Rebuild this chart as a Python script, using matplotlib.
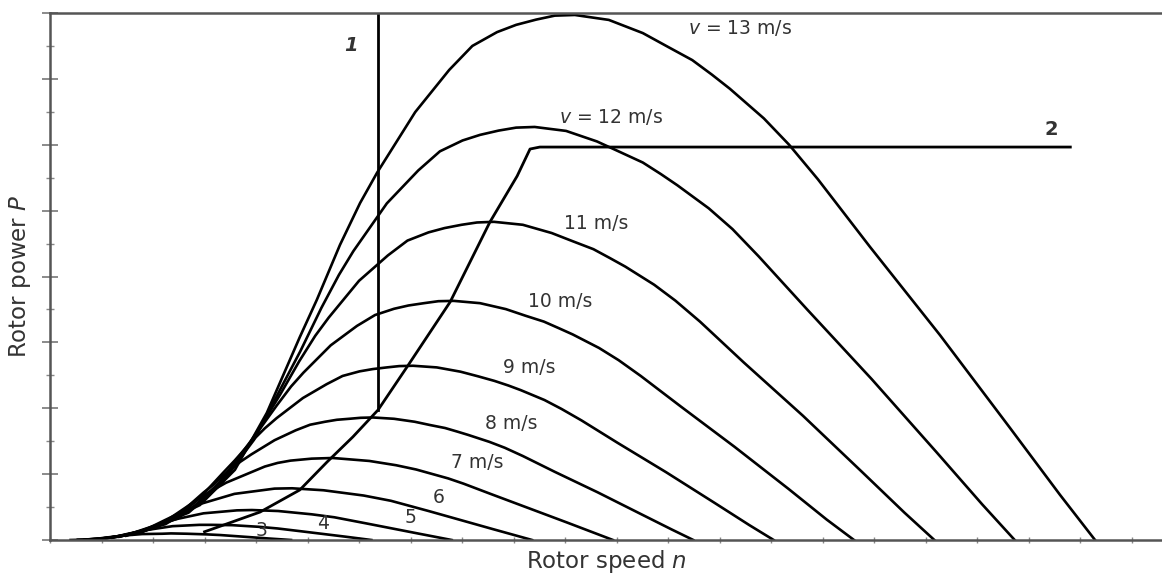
import matplotlib
matplotlib.use("Agg")
import matplotlib.pyplot as plt
from matplotlib.ticker import MultipleLocator

# rotor power curves P(n) for wind speeds 3..13 m/s
n13 = [1.75, 2.91, 3.59, 4.21, 4.85, 5.18, 5.63, 6.02, 6.35, 7.09, 7.75, 8.20, 8.68, 9.05, 9.44, 9.80,
       10.19, 10.85, 11.51, 12.00, 12.47, 12.85, 13.20, 13.86, 14.35, 14.91, 15.92, 17.28, 18.64, 19.61, 20.29]
p13 = [0.21, 1.06, 2.13, 3.86, 6.16, 7.29, 8.96, 10.23, 11.15, 12.99, 14.27, 15.00, 15.42, 15.64, 15.80, 15.92,
       15.94, 15.79, 15.39, 14.97, 14.57, 14.13, 13.70, 12.80, 12.00, 10.95, 8.90, 6.22, 3.40, 1.37, 0.0]
n12 = [1.62, 2.69, 3.31, 3.96, 4.56, 4.86, 5.27, 5.61, 5.89, 6.54, 7.15, 7.57, 8.01, 8.35, 8.71, 9.05,
       9.41, 10.02, 10.62, 11.08, 11.51, 11.86, 12.18, 12.79, 13.25, 13.76, 14.70, 15.95, 17.21, 18.10, 18.73]
p12 = [0.17, 0.83, 1.68, 3.04, 4.84, 5.73, 7.05, 8.05, 8.77, 10.22, 11.22, 11.80, 12.13, 12.30, 12.43, 12.52,
       12.54, 12.42, 12.10, 11.77, 11.46, 11.11, 10.77, 10.07, 9.44, 8.61, 7.00, 4.89, 2.67, 1.08, 0.0]
n11 = [1.48, 2.46, 3.04, 3.64, 4.20, 4.47, 4.84, 5.15, 5.41, 6.00, 6.56, 6.94, 7.35, 7.66, 7.99, 8.29,
       8.62, 9.18, 9.74, 10.15, 10.55, 10.87, 11.17, 11.73, 12.14, 12.62, 13.47, 14.62, 15.77, 16.59, 17.17]
p11 = [0.13, 0.64, 1.29, 2.34, 3.73, 4.42, 5.43, 6.20, 6.75, 7.87, 8.64, 9.09, 9.34, 9.47, 9.57, 9.64,
       9.66, 9.57, 9.32, 9.07, 8.83, 8.56, 8.30, 7.75, 7.27, 6.63, 5.39, 3.77, 2.06, 0.83, 0.0]
n10 = [1.35, 2.24, 2.76, 3.30, 3.80, 4.05, 4.40, 4.68, 4.92, 5.45, 5.96, 6.31, 6.68, 6.96, 7.26, 7.54,
       7.84, 8.35, 8.85, 9.23, 9.59, 9.88, 10.15, 10.66, 11.04, 11.47, 12.25, 13.29, 14.34, 15.08, 15.61]
p10 = [0.10, 0.48, 0.97, 1.76, 2.80, 3.32, 4.08, 4.66, 5.08, 5.91, 6.50, 6.83, 7.02, 7.12, 7.19, 7.25,
       7.26, 7.19, 7.01, 6.81, 6.63, 6.43, 6.24, 5.83, 5.46, 4.98, 4.05, 2.83, 1.55, 0.62, 0.0]
n9 = [1.21, 2.01, 2.49, 2.91, 3.36, 3.59, 3.90, 4.17, 4.40, 4.91, 5.37, 5.68, 6.01, 6.27, 6.54, 6.78,
      7.05, 7.51, 7.97, 8.31, 8.63, 8.90, 9.14, 9.60, 9.93, 10.32, 11.02, 11.96, 12.90, 13.58, 14.05]
p9 = [0.07, 0.35, 0.71, 1.28, 2.04, 2.42, 2.97, 3.39, 3.70, 4.31, 4.73, 4.98, 5.12, 5.19, 5.24, 5.28,
      5.29, 5.24, 5.11, 4.97, 4.83, 4.69, 4.55, 4.25, 3.98, 3.63, 2.95, 2.06, 1.13, 0.45, 0.0]
n8 = [1.08, 1.79, 2.21, 2.59, 2.98, 3.19, 3.46, 3.70, 3.91, 4.36, 4.77, 5.05, 5.34, 5.57, 5.81, 6.03,
      6.27, 6.68, 7.08, 7.38, 7.67, 7.91, 8.12, 8.53, 8.83, 9.18, 9.80, 10.63, 11.47, 12.07, 12.49]
p8 = [0.05, 0.25, 0.50, 0.90, 1.44, 1.70, 2.09, 2.38, 2.60, 3.03, 3.33, 3.50, 3.59, 3.65, 3.68, 3.71,
      3.72, 3.68, 3.59, 3.49, 3.40, 3.29, 3.19, 2.98, 2.80, 2.55, 2.07, 1.45, 0.79, 0.32, 0.0]
n7 = [0.94, 1.57, 1.93, 2.27, 2.61, 3.03, 3.42, 4.17, 4.42, 4.67, 5.08, 5.49, 6.20, 6.72, 7.11, 7.73,
      8.03, 8.57, 10.04, 10.93]
p7 = [0.03, 0.17, 0.33, 0.60, 0.96, 1.40, 1.74, 2.23, 2.34, 2.41, 2.47, 2.49, 2.40, 2.27, 2.14, 1.87,
      1.71, 1.39, 0.53, 0.0]
n6 = [0.81, 1.34, 1.66, 1.94, 2.24, 2.60, 2.93, 3.58, 4.36, 4.70, 5.31, 6.09, 6.62, 7.35, 8.60, 9.36]
p6 = [0.02, 0.10, 0.21, 0.38, 0.61, 0.88, 1.10, 1.40, 1.56, 1.57, 1.51, 1.35, 1.19, 0.88, 0.33, 0.0]
n5 = [0.67, 1.12, 1.38, 1.62, 1.87, 2.17, 2.44, 2.98, 3.63, 3.92, 4.43, 5.08, 5.52, 6.12, 7.17, 7.80]
p5 = [0.01, 0.06, 0.12, 0.22, 0.35, 0.51, 0.63, 0.81, 0.90, 0.91, 0.88, 0.78, 0.69, 0.51, 0.19, 0.0]
n4 = [0.54, 0.90, 1.10, 1.30, 1.49, 1.73, 1.95, 2.38, 2.90, 3.14, 3.54, 4.06, 4.42, 4.90, 5.74, 6.24]
p4 = [0.01, 0.03, 0.06, 0.11, 0.18, 0.26, 0.32, 0.42, 0.46, 0.46, 0.45, 0.40, 0.35, 0.26, 0.10, 0.0]
n3 = [0.40, 0.67, 0.83, 0.97, 1.12, 1.30, 1.47, 1.79, 2.18, 2.35, 2.66, 3.05, 3.31, 3.67, 4.30, 4.68]
p3 = [0.00, 0.01, 0.03, 0.05, 0.08, 0.11, 0.14, 0.18, 0.19, 0.20, 0.19, 0.17, 0.15, 0.11, 0.04, 0.0]

# operating line 1 (fixed speed) and 2 (variable speed, power limited)
n_line1 = [6.37, 6.37]
p_line1 = [16.0, 3.95]
n_line2 = [3.0, 3.20, 4.08, 4.85, 5.38, 5.88, 6.37, 6.93, 7.77, 8.54, 9.07, 9.32, 9.51, 19.81]
p_line2 = [0.25, 0.36, 0.85, 1.52, 2.37, 3.13, 3.95, 5.25, 7.23, 9.65, 11.05, 11.87, 11.93, 11.93]

# curve labels
label_text = ["$v$ = 13 m/s", "$v$ = 12 m/s", "11 m/s", "10 m/s", "9 m/s", "8 m/s", "7 m/s", "6", "5", "4", "3"]
label_n = [13.4, 10.9, 10.6, 9.9, 9.3, 8.95, 8.3, 7.55, 7.0, 5.3, 4.1]
label_p = [15.55, 12.85, 9.6, 7.25, 5.25, 3.55, 2.35, 1.3, 0.68, 0.5, 0.3]

curves = [(n3, p3), (n4, p4), (n5, p5), (n6, p6), (n7, p7), (n8, p8),
          (n9, p9), (n10, p10), (n11, p11), (n12, p12), (n13, p13)]

plt.rcParams['font.family'] = ['DejaVu Sans']
plt.rcParams['mathtext.fontset'] = 'dejavusans'

fig = plt.figure(figsize=(11.62, 5.75), dpi=100)
ax = fig.add_axes([50 / 1162, 35 / 575, 1 - 50 / 1162, 527 / 575])

for n, p in curves:
    ax.plot(n, p, color='black', lw=1.9, solid_joinstyle='round')

ax.plot(n_line1, p_line1, color='black', lw=2.0)
ax.plot(n_line2, p_line2, color='black', lw=2.0, solid_joinstyle='round')

txt_col = '#333333'
for t, x, y in zip(label_text, label_n, label_p):
    ax.text(x, y, t, ha='center', va='center', fontsize=13.5, color=txt_col)

ax.text(5.85, 15.0, "1", ha='center', va='center', fontsize=14, style='italic',
        fontweight='bold', color=txt_col)
ax.text(19.45, 12.45, "2", ha='center', va='center', fontsize=14,
        fontweight='bold', color=txt_col)

ax.set_xlim(0, 21.59)
ax.set_ylim(0, 16)

for side in ['left', 'bottom', 'top']:
    ax.spines[side].set_color('#555555')
    ax.spines[side].set_linewidth(1.8)
ax.spines['right'].set_visible(False)

ax.xaxis.set_major_locator(MultipleLocator(1))
ax.yaxis.set_major_locator(MultipleLocator(2))
ax.yaxis.set_minor_locator(MultipleLocator(1))
ax.tick_params(axis='x', which='major', direction='inout', length=5, width=1,
               color='#888888', labelbottom=False)
ax.tick_params(axis='y', which='major', direction='inout', length=11, width=1.2,
               color='#777777', labelleft=False)
ax.tick_params(axis='y', which='minor', direction='inout', length=6, width=1,
               color='#888888')

ax.set_xlabel("Rotor speed $n$", fontsize=16.5, color=txt_col, labelpad=3)
ax.set_ylabel("Rotor power $P$", fontsize=16.5, color=txt_col, labelpad=6)

fig.savefig("out.png", dpi=100, facecolor='white')
